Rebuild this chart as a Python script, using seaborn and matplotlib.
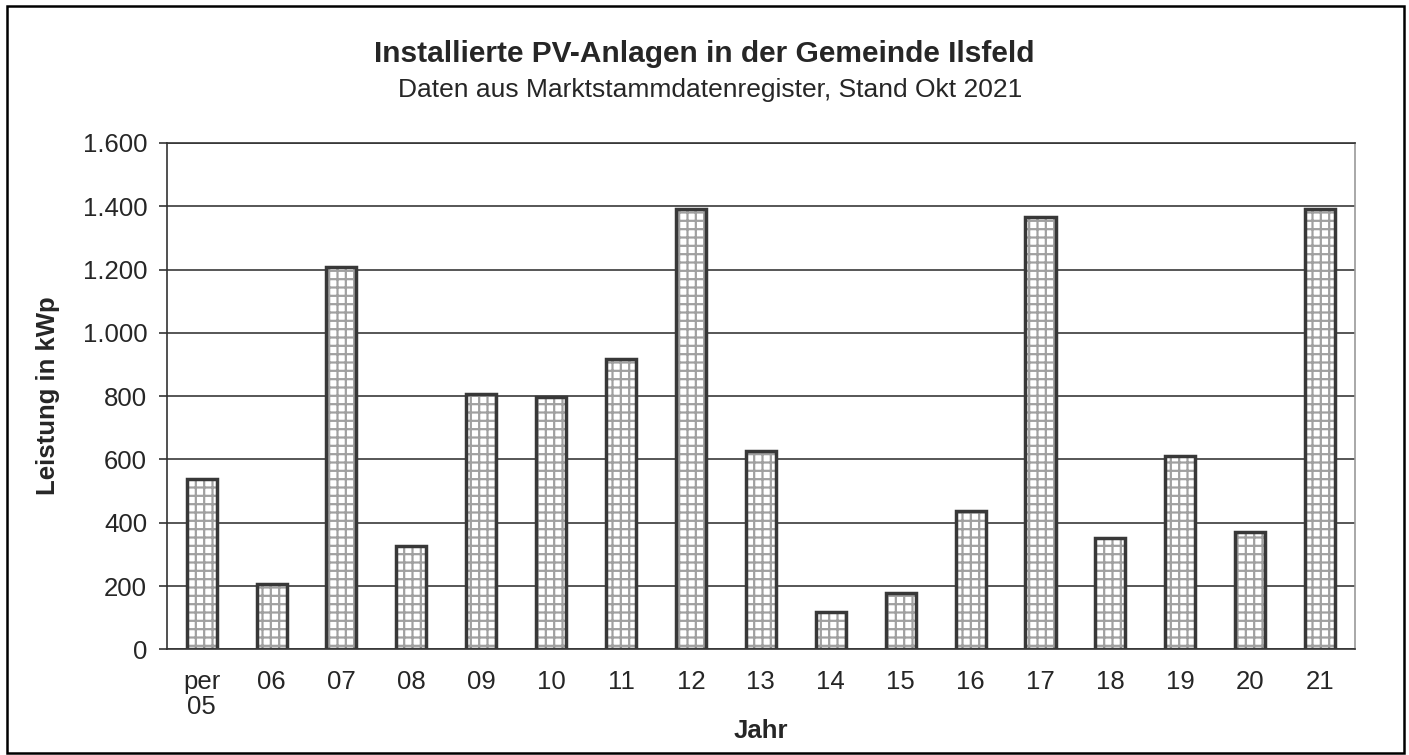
import pandas as pd
import numpy as np
from matplotlib import pyplot as plt
from matplotlib.patches import Rectangle
import seaborn as sns

jahre = ['per\n05', '06', '07', '08', '09', '10', '11', '12', '13',
         '14', '15', '16', '17', '18', '19', '20', '21']
leistung = [537, 205, 1207, 326, 807, 798, 917, 1392, 627,
            117, 177, 438, 1366, 353, 611, 371, 1392]
yticks = [0, 200, 400, 600, 800, 1000, 1200, 1400, 1600]
ylabels = ['0', '200', '400', '600', '800', '1.000', '1.200', '1.400', '1.600']

data = pd.DataFrame({'jahr': jahre, 'kwp': leistung})

sns.set_style("white")
plt.rcParams['font.family'] = ['Liberation Sans', 'DejaVu Sans']
plt.rcParams['hatch.linewidth'] = 1.6

fig = plt.figure(figsize=(14.09, 7.55), dpi=100)
ax = fig.add_axes([0.1183, 0.140, 0.8434, 0.6706])

# hatch layer, then outline layer on top
sns.barplot(x='jahr', y='kwp', data=data, ax=ax, color='white', width=0.43,
            edgecolor='#a0a0a0', linewidth=0, hatch='++', zorder=3)
sns.barplot(x='jahr', y='kwp', data=data, ax=ax, width=0.43, fill=False,
            edgecolor='#383838', linewidth=2.5, zorder=4)
for p in ax.patches:
    p.set_zorder(3)

ax.set_ylim(0, 1600)
ax.set_xlim(-0.5, len(jahre) - 0.5)
ax.set_yticks(yticks)
ax.set_yticklabels(ylabels, fontsize=18.5)
ax.set_xticks(range(len(jahre)))
ax.set_xticklabels(jahre, fontsize=18.5, linespacing=1.05)
ax.set_xticks(np.arange(-0.5, len(jahre)), minor=True)
ax.tick_params(axis='x', which='major', length=0, pad=15)
ax.tick_params(axis='x', which='minor', length=6, width=1.2, color='#333', direction='out')
ax.tick_params(axis='y', length=6, width=1.2, color='#333', direction='out', left=True, pad=8)

ax.yaxis.grid(True, color='#3a3a3a', linewidth=1.2)
ax.set_axisbelow(True)
for s in ['left', 'bottom', 'top']:
    ax.spines[s].set_color('#333')
    ax.spines[s].set_linewidth(1.2)
ax.spines['right'].set_color('#999')
ax.spines['right'].set_linewidth(1.2)

ax.set_xlabel('Jahr', fontsize=18.5, fontweight='bold', labelpad=0)
ax.set_ylabel('Leistung in kWp', fontsize=18.5, fontweight='bold', labelpad=16)

fig.text(0.5, 0.918, 'Installierte PV-Anlagen in der Gemeinde Ilsfeld',
         ha='center', va='baseline', fontsize=21.5, fontweight='bold')
fig.text(0.504, 0.872, 'Daten aus Marktstammdatenregister, Stand Okt 2021',
         ha='center', va='baseline', fontsize=19)

fig.patches.append(Rectangle((0.005, 0.002), 0.9915, 0.99, transform=fig.transFigure,
                             fill=False, edgecolor='black', linewidth=1.8))

plt.savefig('out.png', dpi=100)
